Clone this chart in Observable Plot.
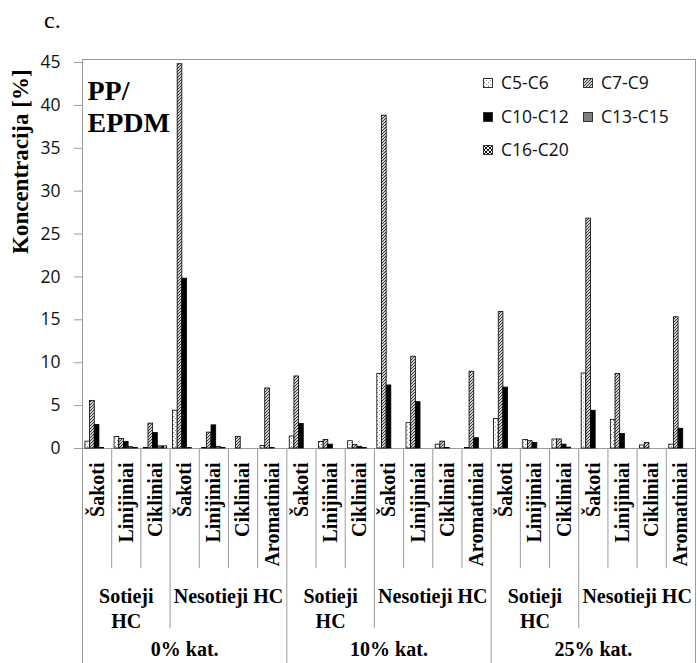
<!DOCTYPE html>
<html>
<head>
<meta charset="utf-8">
<script src="https://cdn.jsdelivr.net/npm/d3@7"></script>
<script src="https://cdn.jsdelivr.net/npm/@observablehq/plot@0.6"></script>
<style>
  html, body { margin: 0; padding: 0; background: #fff; }
  #wrap { position: relative; width: 697px; height: 663px; overflow: hidden; }
  #panel { position: absolute; left: 44px; top: 8px; font: 24px "Liberation Serif", serif; line-height: 1; }
  .leg { position: absolute; display: flex; align-items: center; font: 17.5px "Open Sans", sans-serif; color: #111; line-height: 1; white-space: nowrap; }
  .leg svg { margin-right: 8px; }
</style>
</head>
<body>
<svg width="0" height="0" style="position:absolute">
  <defs>
    <pattern id="pDots" patternUnits="userSpaceOnUse" width="4" height="4">
      <rect width="4" height="4" fill="#fff"/>
      <rect x="1" y="0" width="1" height="1" fill="#777"/>
      <rect x="3" y="2" width="1" height="1" fill="#999"/>
    </pattern>
    <pattern id="pHatch" patternUnits="userSpaceOnUse" width="3" height="3">
      <rect width="3" height="3" fill="#d0d0d0"/>
      <path d="M-1,1 l2,-2 M0,3 l3,-3 M2,4 l2,-2" stroke="#3a3a3a" stroke-width="1"/>
    </pattern>
    <pattern id="pChecker" patternUnits="userSpaceOnUse" width="4" height="4">
      <rect width="4" height="4" fill="#fff"/>
      <rect x="0" y="0" width="2" height="2" fill="#000"/>
      <rect x="2" y="2" width="2" height="2" fill="#000"/>
    </pattern>
  </defs>
</svg>
<div id="wrap">
  <div id="panel">c.</div>
  <div id="chart"></div>
</div>
<script>
// ---- data ----
const catalysts = ["0% kat.", "10% kat.", "25% kat."];
const groups = ["Sotieji\nHC", "Nesotieji HC"];
const groupSubs = [
  ["Šakoti", "Linijiniai", "Cikliniai"],
  ["Šakoti", "Linijiniai", "Cikliniai", "Aromatiniai"]
];
const series = ["C5-C6", "C7-C9", "C10-C12", "C13-C15", "C16-C20"];
const seriesFill = ["url(#pDots)", "url(#pHatch)", "#000000", "#808080", "url(#pChecker)"];

const c5c6   = [0.8, 1.35, 0.05, 4.4, 0.05, 0, 0.3,   1.4, 0.75, 0.85, 8.7, 2.95, 0.45, 0.05,   3.45, 1.0, 1.05, 8.75, 3.35, 0.35, 0.45];
const c7c9   = [5.55, 1.1, 2.9, 44.8, 1.85, 1.35, 7.0, 8.4, 1.0, 0.4, 38.8, 10.7, 0.8, 8.95,   15.9, 0.85, 1.05, 26.8, 8.7, 0.65, 15.3];
const c10c12 = [2.75, 0.75, 1.8, 19.8, 2.7, 0, 0.05,  2.85, 0.45, 0.2, 7.35, 5.4, 0.05, 1.2,    7.1, 0.65, 0.45, 4.4, 1.7, 0, 2.3];
const c13c15 = [0.05, 0.15, 0.25, 0.05, 0.2, 0, 0,    0, 0, 0.05, 0, 0, 0, 0,                  0, 0, 0.1, 0, 0, 0, 0];
const c16c20 = [0, 0.05, 0.25, 0, 0.05, 0, 0,         0, 0, 0, 0, 0, 0, 0,                     0, 0, 0, 0, 0, 0, 0];
const seriesValues = [c5c6, c7c9, c10c12, c13c15, c16c20];

const yTicks = [0, 5, 10, 15, 20, 25, 30, 35, 40, 45];
const panelText = "PP/\nEPDM";
const yLabel = "Koncentracija [%]";

// ---- layout constants ----
const Y_TOP = 45.35;          // top of the plot frame (data units)
const LV_SUB = -14;           // bottom of subcategory separators (data units below zero)
const LV_GROUP = -21;         // bottom of group separators
const LV_BOTTOM = -25.1;      // bottom of the figure
const BAR_PAD = 0.1, BAR_W = 0.16;
const AXIS_GRAY = "#9a9a9a";
const SERIF = "Liberation Serif, Times New Roman, serif";

// ---- derived tables ----
const cats = [];
catalysts.forEach((c, ci) => groups.forEach((g, gi) => groupSubs[gi].forEach(s => {
  cats.push({i: cats.length, catalyst: c, ci, group: g, gi, sub: s});
})));
const N = cats.length;

const bars = [];
series.forEach((s, si) => seriesValues[si].forEach((v, i) => bars.push({series: s, si, i, value: v})));

const seps = [];
for (let i = 1; i < N; i++) {
  const a = cats[i - 1], b = cats[i];
  const lvl = a.ci !== b.ci ? LV_BOTTOM : a.gi !== b.gi ? LV_GROUP : LV_SUB;
  seps.push({x: i, y1: lvl});
}

function spans(keyFn) {
  const out = [];
  cats.forEach(d => {
    const k = keyFn(d);
    const last = out[out.length - 1];
    if (last && last.key === k) last.end = d.i + 1;
    else out.push({key: k, start: d.i, end: d.i + 1, label: d});
  });
  return out.map(o => ({...o, mid: (o.start + o.end) / 2}));
}
const groupSpans = spans(d => d.ci + "|" + d.gi).map(o => ({...o, text: o.label.group}));
const catSpans = spans(d => d.ci).map(o => ({...o, text: o.label.catalyst}));

const chart = Plot.plot({
  width: 697,
  height: 663,
  marginLeft: 82,
  marginRight: 2,
  marginTop: 59,
  marginBottom: 215,
  style: {background: "#fff", color: "#000", overflow: "visible"},
  x: {type: "linear", domain: [0, N], axis: null},
  y: {domain: [0, Y_TOP], axis: null},
  color: {domain: series, range: seriesFill},
  marks: [
    // frame lines
    Plot.ruleY([0, Y_TOP], {x1: 0, x2: N, stroke: AXIS_GRAY}),
    Plot.ruleX([0, N], {y1: LV_BOTTOM, y2: Y_TOP, stroke: AXIS_GRAY}),
    Plot.ruleX(seps, {x: "x", y1: "y1", y2: 0, stroke: AXIS_GRAY}),
    // y axis
    Plot.axisY({ticks: yTicks, tickSize: 8, tickPadding: 14, stroke: AXIS_GRAY, fill: "#111",
      fontFamily: "Open Sans, sans-serif", fontSize: 17.5, label: null}),
    Plot.text([yLabel], {frameAnchor: "left", dx: -62, rotate: -90, text: d => d,
      fontFamily: SERIF, fontWeight: "bold", fontSize: 23, fill: "#000"}),
    // bars
    Plot.rect(bars, {
      x1: d => d.i + BAR_PAD + d.si * BAR_W,
      x2: d => d.i + BAR_PAD + (d.si + 1) * BAR_W,
      y1: 0, y2: "value",
      fill: "series", stroke: "#000", strokeWidth: 0.8
    }),
    // panel label
    Plot.text([panelText], {frameAnchor: "top-left", dx: 5, dy: 18, lineAnchor: "top", lineHeight: 1.14,
      text: d => d, fontFamily: SERIF, fontWeight: "bold", fontSize: 28, fill: "#000"}),
    // subcategory labels
    Plot.text(cats, {x: d => d.i + 0.5, y: 0, dy: 14, rotate: -90, textAnchor: "end", lineAnchor: "middle",
      text: "sub", fontFamily: SERIF, fontWeight: "bold", fontSize: 20, fill: "#000"}),
    // group labels
    Plot.text(groupSpans, {x: "mid", y: 0, dy: 137, lineAnchor: "top", lineHeight: 1.25,
      text: "text", fontFamily: SERIF, fontWeight: "bold", fontSize: 20, fill: "#000"}),
    // catalyst labels
    Plot.text(catSpans, {x: "mid", y: 0, dy: 193, lineAnchor: "top",
      text: "text", fontFamily: SERIF, fontWeight: "bold", fontSize: 20, fill: "#000"})
  ]
});
document.getElementById("chart").appendChild(chart);

// legend (inside the plot area, top right)
const wrap = document.getElementById("wrap");
series.forEach((s, k) => {
  const row = Math.floor(k / 2), col = k % 2;
  const el = document.createElement("div");
  el.className = "leg";
  el.style.left = (483 + col * 100) + "px";
  el.style.top = (74 + row * 33.5) + "px";
  el.style.height = "18px";
  el.innerHTML = `<svg width="10" height="10"><rect x="0.5" y="0.5" width="9" height="9" fill="${seriesFill[k]}" stroke="#333" stroke-width="1"/></svg><span>${s}</span>`;
  wrap.appendChild(el);
});
</script>
</body>
</html>
